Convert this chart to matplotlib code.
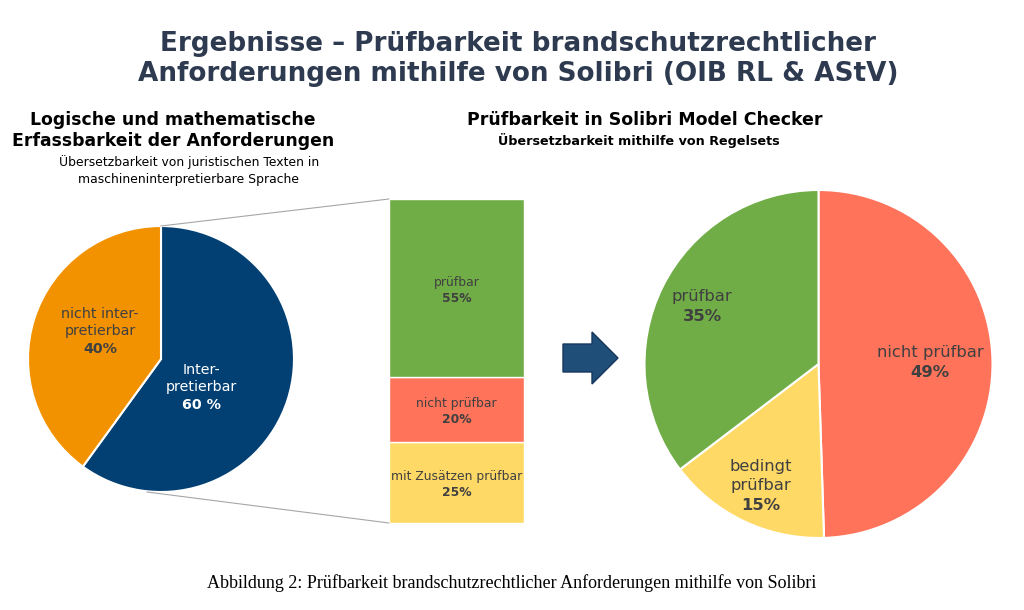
import matplotlib
matplotlib.use("Agg")
import matplotlib.pyplot as plt
from matplotlib.patches import FancyArrow

# ---- data ----
left_names = ["Inter-\npretierbar", "nicht inter-\npretierbar"]
left_pcts = ["60 %", "40%"]
left_values = [60, 40]
left_colors = ["#023F73", "#F39200"]

bar_names = ["mit Zusätzen prüfbar", "nicht prüfbar", "prüfbar"]
bar_pcts = ["25%", "20%", "55%"]
bar_values = [25, 20, 55]
bar_colors = ["#FFD966", "#FF735A", "#70AD47"]

right_names = ["nicht prüfbar", "bedingt\nprüfbar", "prüfbar"]
right_pcts = ["49%", "15%", "35%"]
right_values = [49, 15, 35]
right_colors = ["#FF735A", "#FFD966", "#70AD47"]

W, H = 1024, 610
fig = plt.figure(figsize=(W / 100, H / 100), dpi=100)
ax = fig.add_axes([0, 0, 1, 1])


def Y(y):
    return H - y


txt = "#404040"
LINE = 18.5  # px between label lines


def label(x, y_top, name, pct, color, size):
    lines = name.split("\n")
    for i, ln in enumerate(lines):
        ax.text(x, Y(y_top + i * LINE * size / 11), ln, ha="center", va="center",
                color=color, fontsize=size)
    ax.text(x, Y(y_top + len(lines) * LINE * size / 11), pct, ha="center",
            va="center", color=color, fontsize=size, fontweight="bold")


# ---- left pie ----
lc = (161, Y(359)); lr = 133
ax.pie(left_values, colors=left_colors, startangle=90, counterclock=False,
       center=lc, radius=lr, wedgeprops=dict(edgecolor="white", linewidth=1.5))
label(201, 370, left_names[0], left_pcts[0], "white", 10.3)
label(100, 314, left_names[1], left_pcts[1], txt, 10.3)

# connector lines from pie to bar
ax.plot([161, 389], [Y(226), Y(199)], color="#A6A6A6", lw=0.8)
ax.plot([147, 389], [Y(492), Y(523)], color="#A6A6A6", lw=0.8)

# ---- stacked bar ----
bx = fig.add_axes([389 / W, (H - 523) / H, 135 / W, 324 / H])
bottom = 0
for name, pct, v, c in zip(bar_names, bar_pcts, bar_values, bar_colors):
    bx.bar(0, v, bottom=bottom, width=1, color=c, edgecolor="white", linewidth=1)
    mid = bottom + v / 2
    bx.annotate(name, (0, mid), xytext=(0, 6), textcoords="offset pixels",
                ha="center", va="center", fontsize=8.9, color=txt)
    bx.annotate(pct, (0, mid), xytext=(0, -10), textcoords="offset pixels",
                ha="center", va="center", fontsize=8.9, color=txt, fontweight="bold")
    bottom += v
bx.set_xlim(-0.5, 0.5)
bx.set_ylim(0, 100)
bx.axis("off")

# ---- arrow ----
ax.add_patch(FancyArrow(563, Y(358), 55, 0, width=28, head_width=52, head_length=26,
                        length_includes_head=True, fc="#1F4E79", ec="#17375E", lw=1))

# ---- right pie ----
rc = (818.5, Y(364)); rr = 174
ax.pie(right_values, colors=right_colors, startangle=90, counterclock=False,
       center=rc, radius=rr, wedgeprops=dict(edgecolor="white", linewidth=1.5))
label(930, 353, right_names[0], right_pcts[0], txt, 11.8)
label(761, 466, right_names[1], right_pcts[1], txt, 11.8)
label(702, 297, right_names[2], right_pcts[2], txt, 11.8)

ax.set_xlim(0, W)
ax.set_ylim(0, H)
ax.set_aspect("auto")
ax.axis("off")

# ---- titles ----
tcol = "#2D3A4F"
ax.text(518, Y(44), "Ergebnisse – Prüfbarkeit brandschutzrechtlicher", ha="center",
        va="center", fontsize=18.9, fontweight="bold", color=tcol)
ax.text(518, Y(74), "Anforderungen mithilfe von Solibri (OIB RL & AStV)", ha="center",
        va="center", fontsize=18.9, fontweight="bold", color=tcol)

ax.text(173, Y(120), "Logische und mathematische", ha="center", va="center",
        fontsize=12.4, fontweight="bold", color="black")
ax.text(173, Y(141), "Erfassbarkeit der Anforderungen", ha="center", va="center",
        fontsize=12.4, fontweight="bold", color="black")
ax.text(189, Y(162), "Übersetzbarkeit von juristischen Texten in", ha="center",
        va="center", fontsize=8.9, color="black")
ax.text(189, Y(180), "maschineninterpretierbare Sprache", ha="center", va="center",
        fontsize=8.9, color="black")

ax.text(645, Y(120), "Prüfbarkeit in Solibri Model Checker", ha="center", va="center",
        fontsize=12.5, fontweight="bold", color="black")
ax.text(639, Y(141), "Übersetzbarkeit mithilfe von Regelsets", ha="center", va="center",
        fontsize=9.2, fontweight="bold", color="black")

ax.text(512, Y(583), "Abbildung 2: Prüfbarkeit brandschutzrechtlicher Anforderungen mithilfe von Solibri",
        ha="center", va="center", fontsize=13, color="black",
        family=["Liberation Serif", "DejaVu Serif"])

fig.savefig("out.png", dpi=100, facecolor="white")
